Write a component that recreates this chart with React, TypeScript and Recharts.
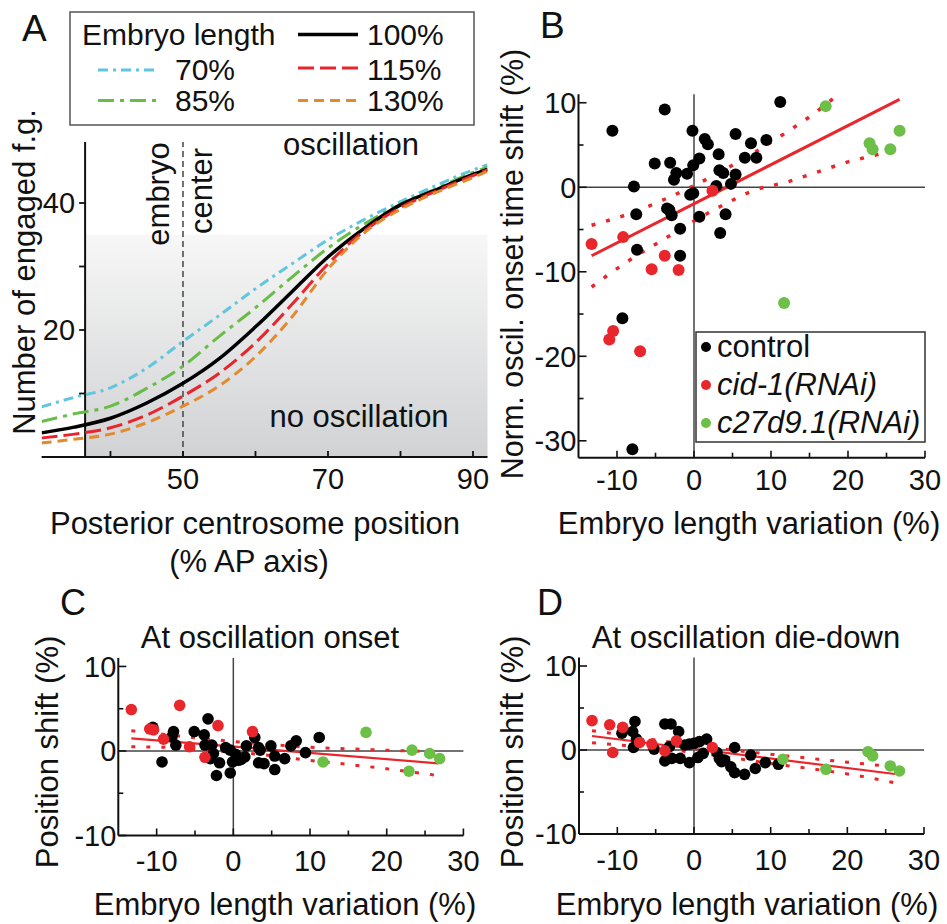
import React from 'react';
import { ComposedChart, Line, Scatter, XAxis, YAxis, ReferenceLine, ReferenceArea } from 'recharts';

const FONT = '"Liberation Sans", Arial, Helvetica, sans-serif';
const INK = '#111';
const RED = '#e8262b';
const GREEN = '#6cbf47';

type Pt = [number, number];
type Box = { left: number; top: number; width: number; height: number; x0: number; x1: number; y0: number; y1: number };

// ---- A: engaged force generators vs posterior centrosome position ----
const positions = [30.5, 35, 40, 45, 50, 55, 60, 65, 70, 75, 80, 85, 90, 92];
const len70 = [7.9, 9.4, 10.9, 14.0, 18.2, 22.3, 26.5, 30.4, 34.2, 37.4, 40.2, 42.8, 45.2, 46.0];
const len85 = [5.6, 6.8, 8.0, 10.8, 14.3, 19.0, 23.5, 28.3, 32.9, 36.7, 39.8, 42.3, 44.8, 45.6];
const len100 = [3.8, 4.7, 6.1, 8.5, 11.6, 15.5, 20.5, 26.0, 31.5, 36.0, 39.7, 42.1, 44.5, 45.3];
const len115 = [3.0, 3.6, 4.6, 6.6, 9.6, 13.2, 18.0, 24.0, 30.4, 35.6, 39.3, 41.9, 44.3, 45.2];
const len130 = [2.2, 2.8, 3.6, 5.4, 8.0, 11.2, 15.8, 22.0, 29.6, 35.3, 39.0, 41.7, 44.0, 45.0];

const lengthSeries = [
  { key: 'l70', label: '70%', values: len70, color: '#5fc6dd', dash: '10 5 3 5', width: 3 },
  { key: 'l85', label: '85%', values: len85, color: '#67bd45', dash: '16 6 4 6', width: 3 },
  { key: 'l100', label: '100%', values: len100, color: '#000', dash: undefined, width: 3.5 },
  { key: 'l115', label: '115%', values: len115, color: '#e8252a', dash: '16 6', width: 3 },
  { key: 'l130', label: '130%', values: len130, color: '#e5892d', dash: '10 6', width: 3 },
];

const engagedRows = positions.map((pos, i) => {
  const row: Record<string, number> = { pos };
  lengthSeries.forEach((s) => { row[s.key] = s.values[i]; });
  return row;
});

// ---- B: onset time shift ----
const controlB: Pt[] = [
  [11.2, 10.1], [-3.8, 9.2], [-10.6, 6.7], [-0.2, 6.7], [5.4, 6.3], [1.4, 5.7], [1.8, 5.1], [7.4, 5.2],
  [9.4, 5.6], [3.2, 3.9], [6.6, 3.5], [8.1, 3.5], [0.7, 3.4], [-0.1, 2.6], [-5.1, 2.8], [-3.1, 2.9],
  [-2.3, 1.7], [-2.6, 0.9], [-0.9, 1.6], [3.3, 2.0], [3.8, 1.7], [5.4, 1.5], [2.9, 0.15], [4.8, 0.4],
  [-7.8, 0.1], [-0.5, -0.9], [-0.1, -0.7], [-3.5, -2.5], [-3.2, -2.7], [-2.9, -3.3], [-7.5, -3.2],
  [0.7, -3.5], [4.1, -3.2], [-1.8, -4.9], [3.4, -5.4], [-7.4, -7.4], [-1.8, -8.1], [-9.3, -15.5], [-8.0, -31.0],
];
const cidB: Pt[] = [
  [-13.3, -6.7], [-9.2, -5.9], [-3.8, -8.1], [-5.5, -9.7], [-2.0, -9.8], [2.4, -0.4], [-10.5, -17.0], [-11.0, -18.0], [-7.0, -19.4],
];
const c27B: Pt[] = [[17.1, 9.6], [22.8, 5.2], [23.2, 4.5], [25.5, 4.5], [26.7, 6.7], [11.7, -13.7]];
const fitB: Pt[] = [[-13.3, -8.1], [26.7, 10.4]];
const upperBX = [-13.3, -8, -4, 0, 4, 8, 12, 16, 18.2];
const upperBY = [-4.5, -3.0, -1.5, 0.2, 2.1, 4.2, 6.5, 9.0, 10.6];
const lowerBX = [-13.3, -8, -4, 0, 4, 8, 12, 16, 20, 24, 26.7];
const lowerBY = [-11.8, -8.4, -6.2, -4.0, -2.0, -0.3, 0.6, 1.8, 3.0, 3.9, 4.6];

// ---- C: position shift at oscillation onset ----
const controlC: Pt[] = [
  [-10.5, 2.8], [-9.3, -1.3], [-7.8, 2.3], [-8.0, 1.7], [-7.5, 0.7], [-5.1, 2.3], [-3.8, 1.9], [-3.3, 3.8],
  [-3.7, 0.7], [-2.8, 0.7], [-2.6, -0.3], [-3.0, -0.9], [-1.8, -1.4], [-2.2, -2.9], [-1.0, 0.4], [-0.4, 0.1],
  [-0.4, -2.6], [-0.1, -1.3], [0.65, -1.1], [1.5, -0.7], [1.7, 0.6], [2.8, 1.6], [3.3, 0.4], [3.5, 0.1],
  [3.3, -1.4], [4.0, -1.5], [4.9, 0.6], [5.4, -0.6], [5.4, -2.2], [6.7, -0.9], [7.5, 0.6], [8.2, 1.2],
  [9.4, -0.2], [11.2, 1.6], [0.3, -0.4], [1.0, -1.0],
];
const cidC: Pt[] = [
  [-13.3, 4.9], [-7.0, 5.4], [-10.9, 2.6], [-10.4, 2.5], [-9.1, 1.4], [-5.7, 0.5], [-2.0, 3.0], [-3.7, -0.75], [2.5, 2.3],
];
const c27C: Pt[] = [[11.7, -1.3], [17.3, 2.2], [23.3, 0.1], [22.9, -2.4], [25.6, -0.3], [26.9, -0.9]];
const fitC: Pt[] = [[-13.3, 1.5], [26.7, -1.46]];
const bandCX = [-13.3, -8, -4, 0, 5, 10, 15, 20, 26.7];
const upperCY = [2.4, 1.86, 1.47, 1.12, 0.75, 0.43, 0.26, 0.09, -0.08];
const lowerCY = [0.5, 0.4, 0.12, -0.13, -0.55, -1.12, -1.59, -2.11, -2.9];

// ---- D: position shift at oscillation die-down ----
const controlD: Pt[] = [
  [-9.4, 2.0], [-7.7, 3.4], [-8.0, 2.2], [-7.5, 1.3], [-7.9, 0.3], [-5.2, 0.1], [-3.8, 3.1], [-3.0, 3.1],
  [-2.0, 2.2], [-3.8, -1.3], [-2.9, -1.0], [-1.8, -1.0], [-3.2, 0.4], [-1.2, 0.6], [-0.6, 0.7], [0, 0.8],
  [0.7, 1.0], [-0.6, -1.5], [0.5, -0.9], [1.2, -0.4], [1.65, 1.3], [3.0, -0.3], [3.3, -1.0], [3.6, -1.4],
  [4.0, -1.2], [4.8, -2.0], [5.3, -2.7], [5.3, 0.3], [6.6, -2.9], [7.4, -0.6], [8.0, -2.2], [9.3, -1.5], [11.0, -1.7],
];
const cidD: Pt[] = [
  [-13.3, 3.5], [-11.0, 3.0], [-9.3, 2.7], [-10.6, -0.3], [-7.1, 0.9], [-5.5, 0.7], [-3.8, -0.1], [-2.3, 1.1], [2.4, 0.3],
];
const c27D: Pt[] = [[11.6, -1.1], [17.2, -2.3], [22.7, -0.2], [23.3, -0.7], [25.6, -1.9], [26.8, -2.5]];
const fitD: Pt[] = [[-13.3, 1.67], [26.2, -2.86]];
const bandDX = [-13.3, -8, -4, 0, 5, 10, 15, 20, 26.2];
const upperDY = [2.3, 1.61, 1.05, 0.57, -0.01, -0.5, -0.98, -1.45, -2.0];
const lowerDY = [0.87, 0.46, 0.1, -0.3, -0.93, -1.6, -2.2, -2.85, -3.9];

const lengthTicks = [-10, -5, 0, 5, 10, 15, 20, 25, 30];
const groupStyle = [
  { name: 'control', color: '#000', italic: false },
  { name: 'cid-1(RNAi)', color: RED, italic: true },
  { name: 'c27d9.1(RNAi)', color: GREEN, italic: true },
];

const toXY = (pts: Pt[]) => pts.map(([x, y]) => ({ x, y }));
const zipXY = (xs: number[], ys: number[]) => xs.map((x, i) => ({ x, y: ys[i] }));
// axes reserve 1px each (x axis height, y axis width)
const marginOf = (b: Box) => ({ left: b.x0 - b.left - 1, right: b.left + b.width - b.x1, top: b.y0 - b.top, bottom: b.top + b.height - b.y1 - 1 });

const boxA: Box = { left: 0, top: 0, width: 500, height: 600, x0: 41.6, x1: 487.5, y0: 139.5, y1: 457 };
const boxB: Box = { left: 500, top: 0, width: 447, height: 600, x0: 578.5, x1: 925, y0: 94.3, y1: 457.7 };
const boxC: Box = { left: 0, top: 600, width: 480, height: 324, x0: 118.3, x1: 463.4, y0: 658, y1: 835.5 };
const boxD: Box = { left: 480, top: 600, width: 467, height: 324, x0: 579, x1: 924, y0: 657.6, y1: 834 };

const TICK_FS = 29;

// bottom axis, ticks pointing into the plot
const xTicker = (labels: number[], labelDy: number) => (p: any) => {
  const v = p.payload.value;
  const len = v % 10 === 0 ? 7 : 5;
  return (
    <g>
      <line x1={p.x} x2={p.x} y1={p.y} y2={p.y - len} stroke={INK} strokeWidth={1.6} />
      {labels.includes(v) && (
        <text x={p.x} y={p.y + labelDy} textAnchor="middle" fontSize={TICK_FS} fill={INK}>{v}</text>
      )}
    </g>
  );
};

// left axis, ticks pointing into the plot
const yTickerIn = (p: any) => {
  const v = p.payload.value;
  const major = v % 10 === 0;
  return (
    <g>
      <line x1={p.x} x2={p.x + (major ? 8 : 5)} y1={p.y} y2={p.y} stroke={INK} strokeWidth={1.6} />
      {major && (
        <text x={p.x - 2} y={p.y} dy="0.36em" textAnchor="end" fontSize={TICK_FS} fill={INK}>{v}</text>
      )}
    </g>
  );
};

const A_DOMAIN: [number, number] = [30.5, 92];
const A_YAXIS_AT = 36.5;

function EngagedPanel() {
  const shift = ((A_YAXIS_AT - A_DOMAIN[0]) / (A_DOMAIN[1] - A_DOMAIN[0])) * (boxA.x1 - boxA.x0);
  const yTickA = (p: any) => {
    const ax = p.x + shift;
    const v = p.payload.value;
    return (
      <g>
        <line x1={ax} x2={ax - 6} y1={p.y} y2={p.y} stroke={INK} strokeWidth={1.8} />
        {v % 20 === 0 && (
          <text x={ax - 10} y={p.y} dy="0.36em" textAnchor="end" fontSize={TICK_FS} fill={INK}>{v}</text>
        )}
      </g>
    );
  };
  const xTickA = (p: any) => {
    const v = p.payload.value;
    return (
      <g>
        <line x1={p.x} x2={p.x} y1={p.y} y2={p.y - 6} stroke={INK} strokeWidth={1.8} />
        {v % 20 === 10 && (
          <text x={p.x} y={p.y + 32} textAnchor="middle" fontSize={TICK_FS} fill={INK}>{v}</text>
        )}
      </g>
    );
  };
  return (
    <div style={{ position: 'absolute', left: boxA.left, top: boxA.top }}>
      <ComposedChart width={boxA.width} height={boxA.height} data={engagedRows} margin={marginOf(boxA)}>
        <defs>
          <linearGradient id="shadeA" x1="0" y1="0" x2="0" y2="1">
            <stop offset="0" stopColor="#f7f7f7" />
            <stop offset="1" stopColor="#d1d2d4" />
          </linearGradient>
        </defs>
        <XAxis type="number" dataKey="pos" domain={A_DOMAIN} allowDataOverflow ticks={[40, 50, 60, 70, 80, 90]}
          interval={0} height={1} tickSize={0} tickMargin={0} axisLine={{ stroke: INK, strokeWidth: 2 }} tickLine={false} tick={xTickA} />
        <YAxis type="number" domain={[0, 50]} allowDataOverflow ticks={[10, 20, 30, 40]} interval={0} width={1}
          tickSize={0} tickMargin={0} axisLine={false} tickLine={false} tick={yTickA} />
        <ReferenceArea x1={A_YAXIS_AT} x2={A_DOMAIN[1]} y1={0} y2={35} fill="url(#shadeA)" fillOpacity={1} stroke="none" />
        <ReferenceLine segment={[{ x: A_YAXIS_AT, y: 0 }, { x: A_YAXIS_AT, y: 49.6 }]} stroke={INK} strokeWidth={2} />
        <ReferenceLine segment={[{ x: 50, y: 0 }, { x: 50, y: 49.6 }]} stroke="#444" strokeWidth={1.5} strokeDasharray="6 4" />
        {lengthSeries.map((s) => (
          <Line key={s.key} dataKey={s.key} type="monotone" stroke={s.color} strokeWidth={s.width}
            strokeDasharray={s.dash} dot={false} activeDot={false} isAnimationActive={false} />
        ))}
      </ComposedChart>
    </div>
  );
}

type PanelProps = {
  box: Box;
  yDomain: [number, number];
  yTicks: number[];
  sets: Pt[][];
  fit: Pt[];
  upper: { x: number; y: number }[];
  lower: { x: number; y: number }[];
  fitWidth: number;
  bandWidth: number;
  r: number;
  labelDy: number;
};

function ScatterPanel({ box, yDomain, yTicks, sets, fit, upper, lower, fitWidth, bandWidth, r, labelDy }: PanelProps) {
  return (
    <div style={{ position: 'absolute', left: box.left, top: box.top }}>
      <ComposedChart width={box.width} height={box.height} margin={marginOf(box)}>
        <XAxis type="number" dataKey="x" domain={[-15, 30]} allowDataOverflow ticks={lengthTicks} interval={0}
          height={1} tickSize={0} tickMargin={0} axisLine={{ stroke: INK, strokeWidth: 2 }} tickLine={false}
          tick={xTicker([-10, 0, 10, 20, 30], labelDy)} />
        <YAxis type="number" dataKey="y" domain={yDomain} allowDataOverflow ticks={yTicks} interval={0} width={1}
          tickSize={0} tickMargin={0} axisLine={{ stroke: INK, strokeWidth: 2 }} tickLine={false} tick={yTickerIn} />
        <ReferenceLine x={0} stroke="#444" strokeWidth={1.5} />
        <ReferenceLine y={0} stroke="#444" strokeWidth={1.5} />
        {sets.map((pts, i) => (
          <Scatter key={groupStyle[i].name} name={groupStyle[i].name} data={toXY(pts)} dataKey="y" isAnimationActive={false}
            shape={(p: any) => <circle cx={p.cx} cy={p.cy} r={r} fill={groupStyle[i].color} />} />
        ))}
        <Line data={upper} dataKey="y" type="monotone" stroke={RED} strokeWidth={bandWidth} strokeDasharray="4 11"
          dot={false} activeDot={false} isAnimationActive={false} />
        <Line data={lower} dataKey="y" type="monotone" stroke={RED} strokeWidth={bandWidth} strokeDasharray="4 11"
          dot={false} activeDot={false} isAnimationActive={false} />
        <Line data={toXY(fit)} dataKey="y" type="linear" stroke={RED} strokeWidth={fitWidth}
          dot={false} activeDot={false} isAnimationActive={false} />
      </ComposedChart>
    </div>
  );
}

const legendSlotsA: Record<string, { lx: number; ly: number; tx: number; ty: number }> = {
  l100: { lx: 298, ly: 34.5, tx: 367, ty: 45 },
  l70: { lx: 98, ly: 70, tx: 175, ty: 80 },
  l115: { lx: 298, ly: 68, tx: 367, ty: 80 },
  l85: { lx: 98, ly: 100.5, tx: 175, ty: 111 },
  l130: { lx: 298, ly: 100.5, tx: 367, ty: 111 },
};

function VText({ x, y, size = 31, children }: { x: number; y: number; size?: number; children: React.ReactNode }) {
  return (
    <text transform={`translate(${x},${y}) rotate(-90)`} textAnchor="middle" fontSize={size} fill={INK}>{children}</text>
  );
}

function Annotations() {
  const T = 31;
  return (
    <svg width={947} height={924} style={{ position: 'absolute', left: 0, top: 0, pointerEvents: 'none' }}>
      {/* panel letters */}
      <text x={22} y={41} fontSize={37} fill={INK}>A</text>
      <text x={540} y={38} fontSize={37} fill={INK}>B</text>
      <text x={60} y={615} fontSize={36} fill={INK}>C</text>
      <text x={537} y={615} fontSize={36} fill={INK}>D</text>

      {/* A legend */}
      <rect x={70} y={12} width={404} height={113} fill="#fff" stroke="#555" strokeWidth={1.5} />
      <text x={82} y={45} fontSize={30} fill={INK}>Embryo length</text>
      {lengthSeries.map((s) => {
        const slot = legendSlotsA[s.key];
        return (
          <g key={s.key}>
            <line x1={slot.lx} x2={slot.lx + 60} y1={slot.ly} y2={slot.ly} stroke={s.color} strokeWidth={s.width} strokeDasharray={s.dash} />
            <text x={slot.tx} y={slot.ty} fontSize={30} fill={INK}>{s.label}</text>
          </g>
        );
      })}

      {/* A annotations */}
      <VText x={169} y={194}>embryo</VText>
      <VText x={212} y={191}>center</VText>
      <text x={351} y={155} textAnchor="middle" fontSize={T} fill={INK}>oscillation</text>
      <text x={359} y={427} textAnchor="middle" fontSize={T} fill={INK}>no oscillation</text>
      <VText x={35} y={272}>Number of engaged f.g.</VText>
      <text x={255} y={534} textAnchor="middle" fontSize={T} fill={INK}>Posterior centrosome position</text>
      <text x={249} y={572} textAnchor="middle" fontSize={T} fill={INK}>(% AP axis)</text>

      {/* B labels and legend */}
      <VText x={523} y={264} size={30.5}>Norm. oscil. onset time shift (%)</VText>
      <text x={749} y={534} textAnchor="middle" fontSize={T} fill={INK}>Embryo length variation (%)</text>
      <rect x={696} y={332} width={229} height={110} fill="#fff" stroke="#333" strokeWidth={1.5} />
      {groupStyle.map((g, i) => (
        <g key={g.name}>
          <circle cx={706} cy={347 + i * 38} r={5} fill={g.color} />
          <text x={717} y={357 + i * 38} fontSize={T} fontStyle={g.italic ? 'italic' : 'normal'} fill={INK}>{g.name}</text>
        </g>
      ))}

      {/* C and D labels */}
      <text x={270} y={648} textAnchor="middle" fontSize={T} fill={INK}>At oscillation onset</text>
      <VText x={58} y={752}>Position shift (%)</VText>
      <text x={285} y={915} textAnchor="middle" fontSize={T} fill={INK}>Embryo length variation (%)</text>
      <text x={746} y={648} textAnchor="middle" fontSize={T} fill={INK}>At oscillation die-down</text>
      <VText x={523} y={752}>Position shift (%)</VText>
      <text x={747} y={915} textAnchor="middle" fontSize={T} fill={INK}>Embryo length variation (%)</text>
    </svg>
  );
}

export default function App() {
  return (
    <div style={{ position: 'absolute', left: 0, top: 0, width: 947, height: 924, background: '#fff', fontFamily: FONT, color: INK, overflow: 'hidden' }}>
      <EngagedPanel />
      <ScatterPanel box={boxB} yDomain={[-32, 11]} yTicks={[-30, -25, -20, -15, -10, -5, 0, 5, 10]}
        sets={[controlB, cidB, c27B]} fit={fitB} upper={zipXY(upperBX, upperBY)} lower={zipXY(lowerBX, lowerBY)}
        fitWidth={3} bandWidth={3.5} r={6} labelDy={32} />
      <ScatterPanel box={boxC} yDomain={[-10, 11]} yTicks={[-10, -5, 0, 5, 10]}
        sets={[controlC, cidC, c27C]} fit={fitC} upper={zipXY(bandCX, upperCY)} lower={zipXY(bandCX, lowerCY)}
        fitWidth={2.2} bandWidth={3} r={5.8} labelDy={35} />
      <ScatterPanel box={boxD} yDomain={[-10, 11]} yTicks={[-10, -5, 0, 5, 10]}
        sets={[controlD, cidD, c27D]} fit={fitD} upper={zipXY(bandDX, upperDY)} lower={zipXY(bandDX, lowerDY)}
        fitWidth={2.2} bandWidth={3} r={5.8} labelDy={36} />
      <Annotations />
    </div>
  );
}
